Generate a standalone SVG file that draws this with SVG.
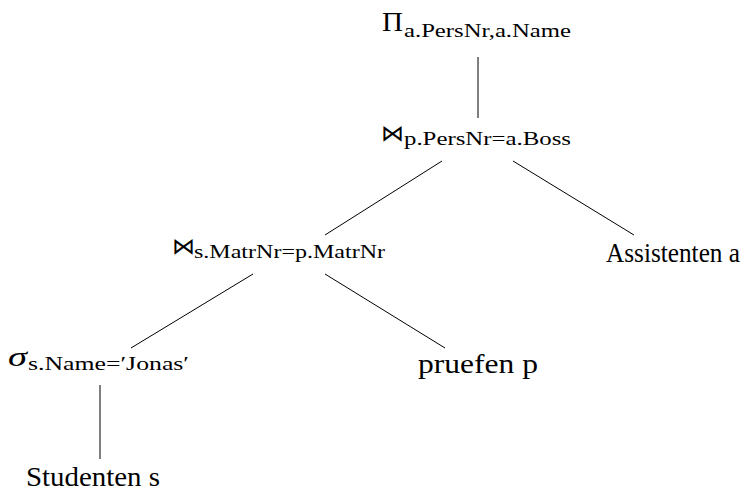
<svg xmlns="http://www.w3.org/2000/svg" width="750" height="492" viewBox="0 0 750 492">
<style>
text{font-family:"Liberation Serif","Times New Roman",serif;fill:#000}
.m{font-size:27px}
.s{font-size:19px}
.op{font-family:"DejaVu Sans",sans-serif;font-size:23px;font-weight:200}
.c line{stroke:#000;stroke-width:1}
</style>
<rect width="750" height="492" fill="#fff"/>
<g class="c" id="connectors">
<line x1="478" y1="57" x2="478" y2="118"/>
<line x1="442" y1="161" x2="325" y2="235"/>
<line x1="513" y1="161" x2="634" y2="235"/>
<line x1="253" y1="274" x2="131" y2="348"/>
<line x1="325" y1="274" x2="445" y2="348"/>
<line x1="100" y1="385" x2="100" y2="459"/>
</g>
<g id="proj">
<text class="m" x="382" y="31" textLength="21" lengthAdjust="spacingAndGlyphs">Π</text>
<text class="s" x="404" y="37" textLength="167" lengthAdjust="spacingAndGlyphs">a.PersNr,a.Name</text>
</g>
<g id="join2">
<text class="op" x="381" y="141">⋈</text>
<text class="s" x="404" y="145" textLength="167" lengthAdjust="spacingAndGlyphs">p.PersNr=a.Boss</text>
</g>
<g id="join1">
<text class="op" x="172" y="254">⋈</text>
<text class="s" x="194" y="258" textLength="191" lengthAdjust="spacingAndGlyphs">s.MatrNr=p.MatrNr</text>
</g>
<g id="assistenten">
<text class="m" x="606" y="262" textLength="134" lengthAdjust="spacingAndGlyphs">Assistenten a</text>
</g>
<g id="select">
<text class="m" x="8" y="366" font-style="italic" font-size="28px" textLength="19" lengthAdjust="spacingAndGlyphs">σ</text>
<text class="s" x="28" y="370" textLength="161" lengthAdjust="spacingAndGlyphs">s.Name=′Jonas′</text>
</g>
<g id="pruefen">
<text class="m" x="418" y="373" textLength="120" lengthAdjust="spacingAndGlyphs">pruefen p</text>
</g>
<g id="studenten">
<text class="m" x="26" y="486" textLength="134" lengthAdjust="spacingAndGlyphs">Studenten s</text>
</g>
</svg>
